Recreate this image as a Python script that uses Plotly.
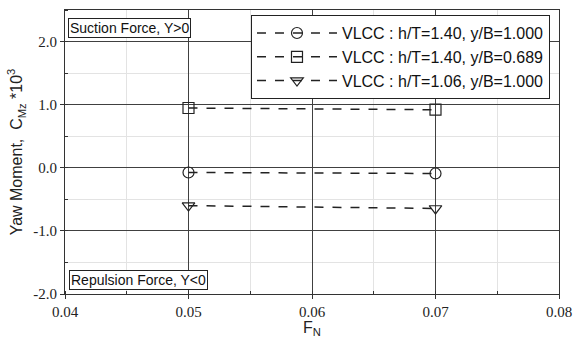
import plotly.graph_objects as go

fn = [0.05, 0.07]
labels = ["VLCC : h/T=1.40, y/B=1.000", "VLCC : h/T=1.40, y/B=0.689", "VLCC : h/T=1.06, y/B=1.000"]
cmz_circle = [-0.075, -0.09]
cmz_square = [0.947, 0.92]
cmz_tri = [-0.60, -0.645]
symbols = ["circle-open", "square-open", "triangle-down-open"]
series = [cmz_circle, cmz_square, cmz_tri]

x_ticks = [0.04, 0.05, 0.06, 0.07, 0.08]
x_ticktext = ["0.04", "0.05", "0.06", "0.07", "0.08"]
y_ticks = [-2.0, -1.0, 0.0, 1.0, 2.0]
y_ticktext = ["-2.0", "-1.0", "0.0", "1.0", "2.0"]

SERIF = "Liberation Serif"
SANS = "Liberation Sans"

fig = go.Figure()
for lab, ys, sym in zip(labels, series, symbols):
    fig.add_trace(go.Scatter(
        x=fn, y=ys, name=lab, mode="lines+markers",
        line=dict(color="#222222", width=1.5, dash="dash"),
        marker=dict(symbol=sym, size=11, color="#222222", line=dict(width=1.2, color="#222222")),
    ))

fig.update_layout(
    template="none",
    font=dict(family=SERIF, size=15, color="#222222"),
    width=575, height=338,
    margin=dict(l=65, r=16, t=10, b=44),
    plot_bgcolor="white", paper_bgcolor="white",
    xaxis=dict(
        range=[0.04, 0.08], tickmode="array", tickvals=x_ticks, ticktext=x_ticktext,
        tickfont=dict(family=SERIF, size=15, color="#222222"),
        showline=True, linecolor="#333333", linewidth=1, mirror=True,
        showgrid=True, gridcolor="#404040", gridwidth=1,
        ticks="outside", ticklen=4, tickcolor="#333333", zeroline=False,
        minor=dict(dtick=0.005, tick0=0.04, showgrid=True, gridcolor="#e3e3e3", ticks="inside", ticklen=3, tickcolor="#333333"),
        title=dict(text="F<sub>N</sub>", font=dict(family=SANS, size=16, color="#222222"), standoff=2),
    ),
    yaxis=dict(
        range=[-2.0, 2.5], tickmode="array", tickvals=y_ticks, ticktext=y_ticktext,
        tickfont=dict(family=SERIF, size=15, color="#222222"),
        showline=True, linecolor="#333333", linewidth=1, mirror=True,
        showgrid=True, gridcolor="#404040", gridwidth=1,
        ticks="outside", ticklen=4, tickcolor="#333333", zeroline=False,
        minor=dict(dtick=0.5, tick0=0, showgrid=True, gridcolor="#e3e3e3", ticks="inside", ticklen=3, tickcolor="#333333"),
        title=dict(text="Yaw Moment,  C<sub>Mz</sub> *10<sup>3</sup>", font=dict(family=SANS, size=16, color="#222222"), standoff=6),
    ),
    legend=dict(
        x=0.3765, y=0.982, xanchor="left", yanchor="top",
        bgcolor="white", bordercolor="#222222", borderwidth=1,
        font=dict(family=SANS, size=16, color="#111111"),
        itemwidth=80, tracegroupgap=0,
    ),
)

fig.add_annotation(
    x=0.006, y=0.972, xref="paper", yref="paper", xanchor="left", yanchor="top",
    text="Suction Force, Y>0", showarrow=False,
    font=dict(family=SANS, size=14, color="#111111"),
    bordercolor="#222222", borderwidth=1, borderpad=1, bgcolor="white",
)
fig.add_annotation(
    x=0.008, y=0.014, xref="paper", yref="paper", xanchor="left", yanchor="bottom",
    text="Repulsion Force, Y<0", showarrow=False,
    font=dict(family=SANS, size=14, color="#111111"),
    bordercolor="#222222", borderwidth=1, borderpad=1, bgcolor="white",
)

fig.write_html("out.html")
